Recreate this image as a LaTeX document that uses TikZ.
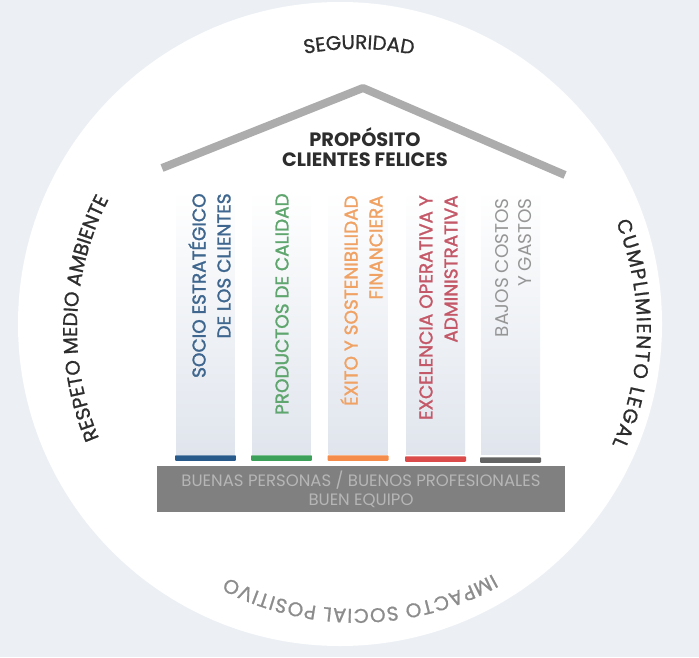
\documentclass[tikz,border=0pt]{standalone}
\usepackage{fontspec}
\setmainfont{Poppins}
\newfontfamily\pmed{Poppins}[FakeBold=1.6]
\newfontfamily\pcirc{Poppins}[FakeBold=1.0]
\usetikzlibrary{decorations.text}
\definecolor{bgc}{RGB}{236,240,245}
\definecolor{circ}{RGB}{45,45,45}
\definecolor{circlt}{RGB}{140,140,140}
\definecolor{roofc}{RGB}{172,172,172}
\definecolor{titlec}{RGB}{45,45,45}
\definecolor{pillc}{RGB}{224,229,237}
\definecolor{basec}{RGB}{128,128,128}
\definecolor{basetxt}{RGB}{182,182,182}
\definecolor{tblue}{RGB}{62,102,142}
\definecolor{tgreen}{RGB}{95,165,110}
\definecolor{torange}{RGB}{240,162,100}
\definecolor{trose}{RGB}{196,88,104}
\definecolor{tgray}{RGB}{150,150,150}
\definecolor{bblue}{RGB}{40,90,140}
\definecolor{bgreen}{RGB}{60,160,90}
\definecolor{borange}{RGB}{245,140,75}
\definecolor{bred}{RGB}{220,75,75}
\definecolor{bgray}{RGB}{100,100,100}
\newcommand\circtext{\pcirc\color{circ}\fontsize{11.3}{13}\selectfont}
\newcommand\circtextlt{\pcirc\color{circlt}\fontsize{11.3}{13}\selectfont}
\tikzset{
  pillar/.style={minimum width=1.18cm, minimum height=5.3cm, inner sep=0pt, top color=white, bottom color=pillc, draw=none},
  bar/.style={minimum width=1.22cm, minimum height=0.11cm, inner sep=0pt, rounded corners=0.5pt},
  ptext/.style={rotate=90, anchor=east, align=right, inner sep=0pt, font=\pmed\fontsize{10.5}{14.2}\selectfont},
  roof/.style={draw=roofc, line width=0.16cm, line join=round},
  circpath/.style={decorate, decoration={text along path, text align=center, text={#1}}}
}
\begin{document}
\begin{tikzpicture}[x=0.02cm,y=0.02cm]
\useasboundingbox (0,0) rectangle (699,657);
\fill[bgc] (0,0) rectangle (699,657);
\fill[white] (340,333) circle[radius=322];
\coordinate (tc) at (357,328);
% circle texts
\path[circpath={|\circtext|SEGURIDAD}] ([shift={(134.6:280)}]tc) arc[start angle=134.6, end angle=44.6, radius=280];
\path[circpath={|\circtext\kern0.8pt|CUMPLIMIENTO LEGAL}] ([shift={(44.2:280)}]tc) arc[start angle=44.2, end angle=-45.8, radius=280];
\path[circpath={|\circtextlt\kern0.5pt|IMPACTO SOCIAL POSITIVO}] ([shift={(-44.2:280)}]tc) arc[start angle=-44.2, end angle=-134.2, radius=280];
\path[circpath={|\circtext|RESPETO MEDIO AMBIENTE}] ([shift={(222.7:280)}]tc) arc[start angle=222.7, end angle=132.7, radius=280];
% roof
\coordinate (rl) at (162,489);
\coordinate (rp) at (363,569);
\coordinate (rr) at (565,482);
\draw[roof] (rl) -- (rp) -- (rr);
\node[font=\bfseries\fontsize{11}{11.6}\selectfont, text=titlec, align=center, inner sep=0pt] (title) at (365,510) {PROPÓSITO\\CLIENTES FELICES};
% pillars
\node[pillar] (p1) at (205.5,334.5) {};
\node[pillar] (p2) at (281.5,334.5) {};
\node[pillar] (p3) at (358,334.5) {};
\node[pillar] (p4) at (435.5,334.5) {};
\node[pillar] (p5) at (510.5,334.5) {};
% bars
\node[bar, fill=bblue] (b1) at (205.5,199) {};
\node[bar, fill=bgreen] (b2) at (281.5,199) {};
\node[bar, fill=borange] (b3) at (358,199) {};
\node[bar, fill=bred] (b4) at (435.5,198) {};
\node[bar, fill=bgray] (b5) at (510.5,197) {};
% pillar texts
\node[ptext, text=tblue] (t1) at (209.5,464) {SOCIO ESTRATÉGICO\\DE LOS CLIENTES};
\node[ptext, text=tgreen] (t2) at (282,464) {PRODUCTOS DE CALIDAD};
\node[ptext, text=torange] (t3) at (361.5,462) {ÉXITO Y SOSTENIBILIDAD\\FINANCIERA};
\node[ptext, text=trose] (t4) at (438.5,462) {EXCELENCIA OPERATIVA Y\\ADMINISTRATIVA};
\node[ptext, text=tgray, font=\fontsize{10.5}{13.6}\selectfont] (t5) at (513.5,459) {BAJOS COSTOS\\Y GASTOS};
% base
\node[fill=basec, minimum width=8.16cm, minimum height=0.92cm, inner sep=0pt, text=basetxt, align=center, font=\fontsize{9.4}{11}\selectfont] (base) at (361,168) {BUENAS PERSONAS / BUENOS PROFESIONALES\\BUEN EQUIPO};
\end{tikzpicture}
\end{document}
